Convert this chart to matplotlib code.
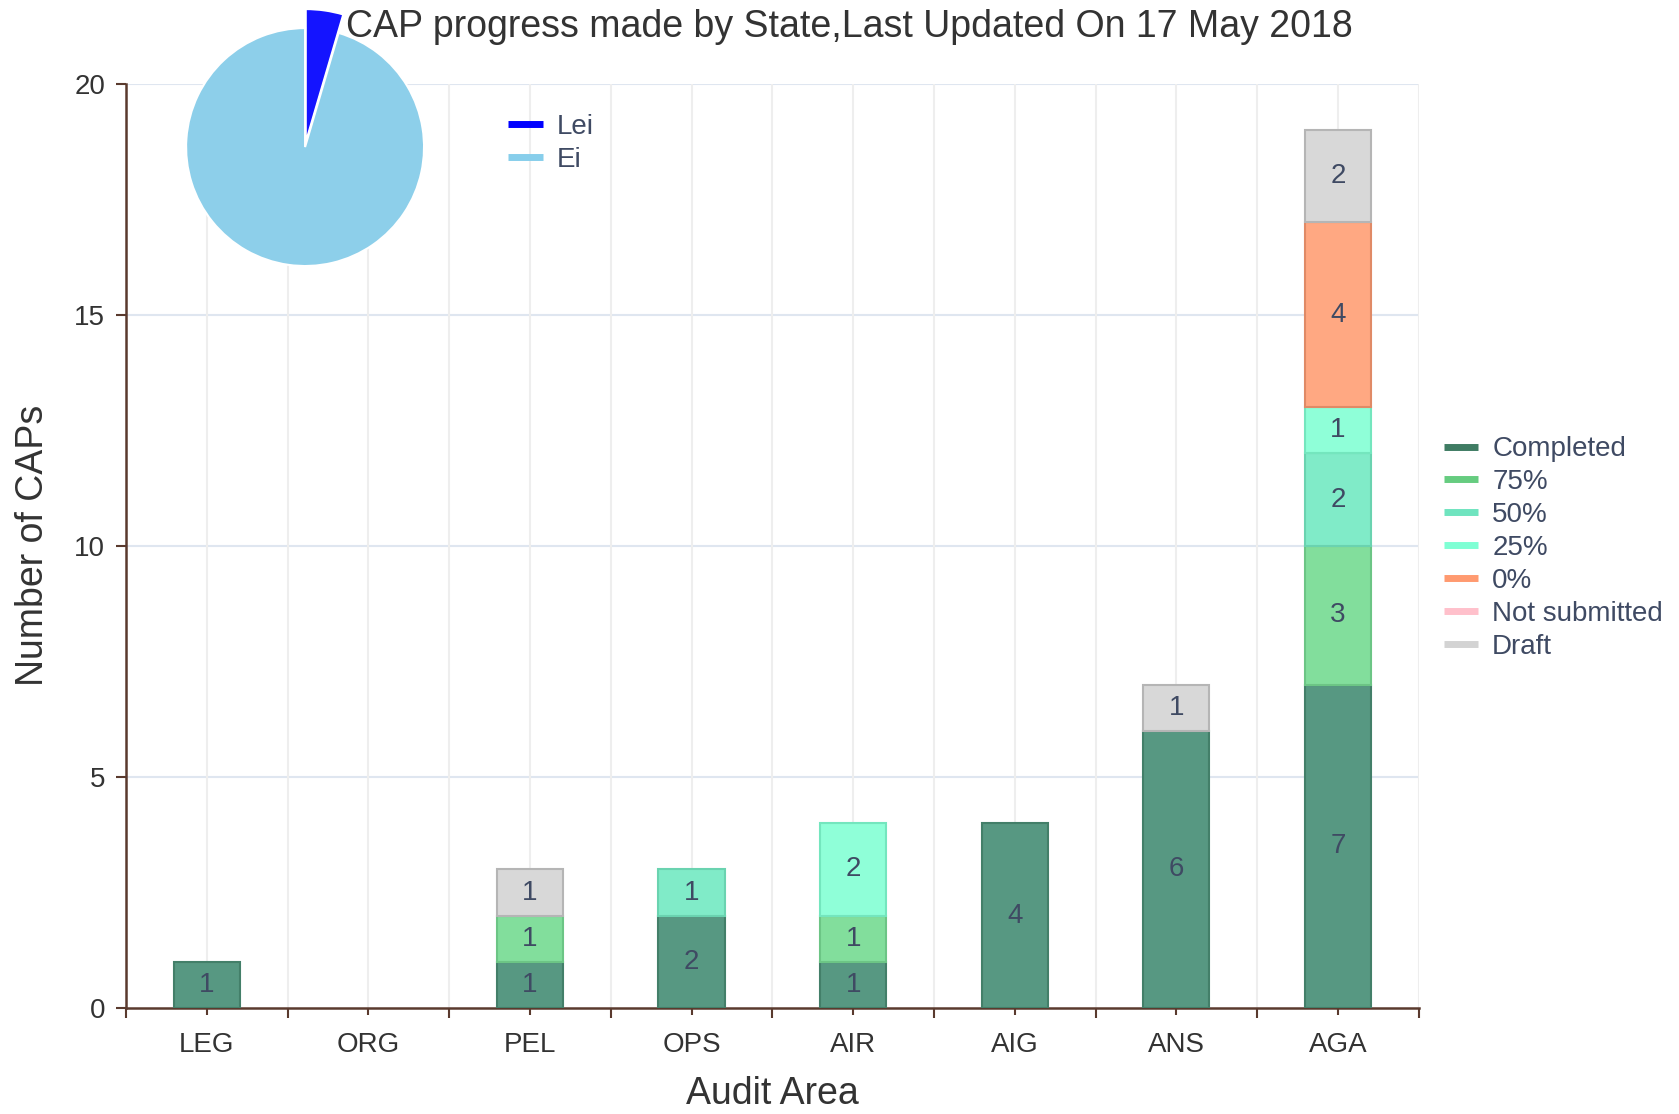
import matplotlib
matplotlib.use("Agg")
import matplotlib.pyplot as plt
import numpy as np
from matplotlib.lines import Line2D

plt.rcParams['font.family'] = ['Liberation Sans', 'DejaVu Sans']

categories = ["LEG", "ORG", "PEL", "OPS", "AIR", "AIG", "ANS", "AGA"]
completed = [1, 0, 1, 2, 1, 4, 6, 7]
pct75 = [0, 0, 1, 0, 1, 0, 0, 3]
pct50 = [0, 0, 0, 1, 0, 0, 0, 2]
pct25 = [0, 0, 0, 0, 2, 0, 0, 1]
pct0 = [0, 0, 0, 0, 0, 0, 0, 4]
not_submitted = [0, 0, 0, 0, 0, 0, 0, 0]
draft = [0, 0, 1, 0, 0, 0, 1, 2]

series_names = ["Completed", "75%", "50%", "25%", "0%", "Not submitted", "Draft"]
series_values = [completed, pct75, pct50, pct25, pct0, not_submitted, draft]
fill_colors = ["#579882", "#82de9c", "#80ebc8", "#8fffd8", "#ffa882", "#ffc0cb", "#d8d8d8"]
edge_colors = ["#437f69", "#6cc585", "#6ad3b0", "#74e6be", "#e08a66", "#e0a0ab", "#b5b5b5"]
legend_colors = ["#3f7c63", "#66cc80", "#6fe4bf", "#7fffd4", "#ff9a70", "#ffc0cb", "#d3d3d3"]

pie_labels = ["Lei", "Ei"]
pie_values = [1, 21]
pie_colors = ["#1414ff", "#8dcfea"]

label_color = "#3f4a63"
text_color = "#333333"
axis_color = "#5a3a2e"

fig = plt.figure(figsize=(16.79, 11.14), dpi=100)
ax = fig.add_axes([0.075, 0.095, 0.77, 0.83])

x = np.arange(len(categories))
bottom = np.zeros(len(categories))
for name, vals, fc, ec in zip(series_names, series_values, fill_colors, edge_colors):
    vals = np.array(vals, dtype=float)
    mask = vals > 0
    ax.bar(x[mask], vals[mask], width=0.41, bottom=bottom[mask], color=fc,
           edgecolor=ec, linewidth=1.5, zorder=3)
    for xi, v, b in zip(x, vals, bottom):
        if v > 0:
            ax.text(xi, b + v / 2, f"{int(v)}", ha="center", va="center",
                    fontsize=20, color=label_color, zorder=4)
    bottom += vals

ax.set_xlim(-0.5, len(categories) - 0.5)
ax.set_ylim(0, 20)
ax.set_yticks([0, 5, 10, 15, 20])
ax.set_xticks(np.arange(-0.5, len(categories), 1.0))
ax.set_xticklabels([])
ax.set_xticks(x, minor=True)
ax.set_xticklabels(categories, minor=True)

ax.tick_params(axis="x", which="major", length=7, width=1.5, color=axis_color)
ax.tick_params(axis="x", which="minor", length=5, width=1.5, color=axis_color,
               labelsize=20, labelcolor=text_color, pad=12)
ax.tick_params(axis="y", length=7, width=1.5, color=axis_color,
               labelsize=20, labelcolor=text_color, pad=8)

for s in ["top", "right"]:
    ax.spines[s].set_visible(False)
for s in ["left", "bottom"]:
    ax.spines[s].set_color(axis_color)
    ax.spines[s].set_linewidth(1.8)

for yv in [5, 10, 15, 20]:
    ax.axhline(yv, color="#dfe6f0", linewidth=1.5, zorder=1)
for xv in np.arange(-0.5, len(categories), 0.5):
    ax.axvline(xv, color="#eeeeee", linewidth=1.5, zorder=1)

ax.set_xlabel("Audit Area", fontsize=27, color=text_color)
ax.set_ylabel("Number of CAPs", fontsize=27, color=text_color)
ax.xaxis.set_label_coords(0.5, -0.093)
ax.xaxis.label.set_va("center")
ax.yaxis.set_label_coords(-0.072, 0.5)
ax.yaxis.label.set_va("center")

handles = [Line2D([0], [0], color=c, linewidth=5, solid_capstyle="butt")
           for c in legend_colors]
leg = fig.legend(handles, series_names, loc="center left",
                 bbox_to_anchor=(0.8515, 0.508), frameon=False, fontsize=20,
                 handlelength=1.25, handletextpad=0.5, labelspacing=0.25,
                 borderpad=0)
for t in leg.get_texts():
    t.set_color(label_color)

fig.text(0.506, 0.976, "CAP progress made by State,Last Updated On 17 May 2018",
         ha="center", va="center", fontsize=27, color=text_color)

pax = fig.add_axes([0.0931, 0.7345, 0.1772, 0.267])
wedges, _ = pax.pie(pie_values, colors=pie_colors, startangle=90,
                    counterclock=False, explode=[0.04, 0],
                    wedgeprops=dict(edgecolor="white", linewidth=1.5))
wedges[0].set_radius(1.12)
pax.set_xlim(-1.25, 1.25)
pax.set_ylim(-1.25, 1.25)
pax.set_aspect("equal")
for w in wedges:
    w.set_clip_on(False)

pie_handles = [Line2D([0], [0], color=c, linewidth=5, solid_capstyle="butt")
               for c in ["#0000ff", "#87ceeb"]]
pleg = fig.legend(pie_handles, pie_labels, loc="upper left",
                  bbox_to_anchor=(0.2945, 0.910), frameon=False, fontsize=20,
                  handlelength=1.25, handletextpad=0.5, labelspacing=0.25,
                  borderpad=0)
for t in pleg.get_texts():
    t.set_color(label_color)

fig.savefig("out.png", dpi=100)
